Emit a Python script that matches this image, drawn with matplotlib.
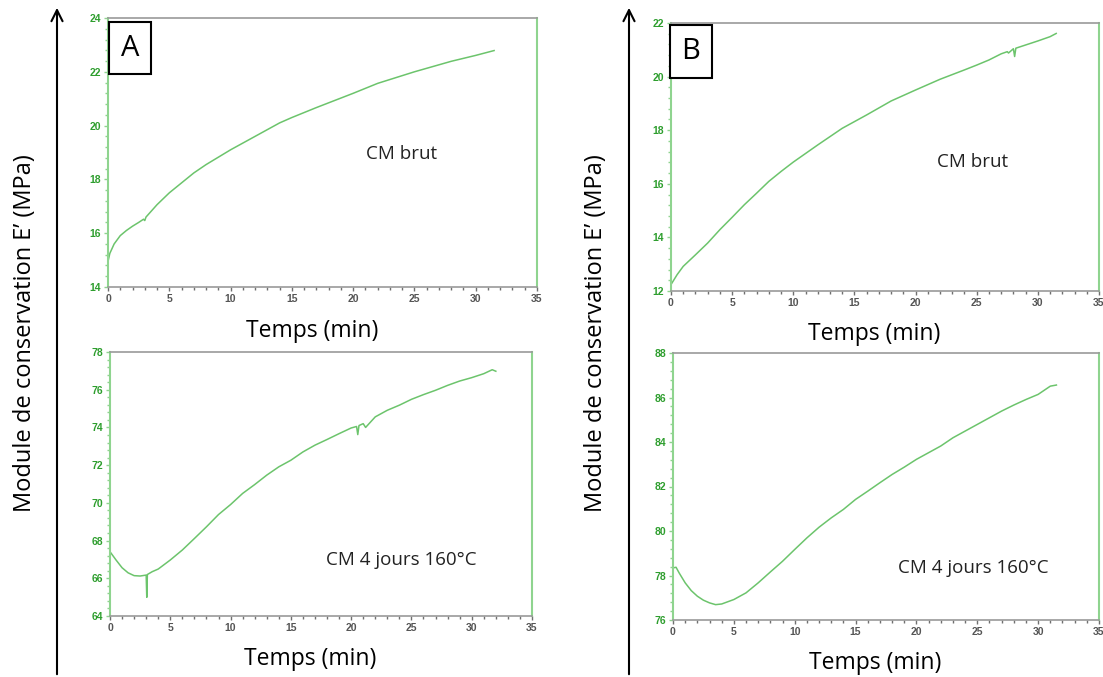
import numpy as np
import matplotlib.pyplot as plt
from matplotlib.ticker import MultipleLocator

# Values (time in min, E' in MPa)
t_a_brut = [0, 0.15, 0.5, 1, 1.5, 2, 2.5, 2.9, 3.0, 3.1, 4, 5, 6, 7, 8, 10, 12, 14, 15, 17, 20, 22, 25, 28, 30, 31.5]
e_a_brut = [14.95, 15.25, 15.6, 15.91, 16.1, 16.26, 16.4, 16.52, 16.47, 16.6, 17.06, 17.5, 17.87, 18.24, 18.55, 19.1, 19.6, 20.1, 20.3, 20.67, 21.2, 21.57, 22.0, 22.39, 22.61, 22.79]

t_a_4j = [0, 0.5, 1, 1.5, 2, 2.5, 3, 3.05, 3.1, 3.5, 4, 5, 6, 7, 8, 9, 10, 11, 12, 13, 14, 15, 16, 17, 18, 19, 20,
          20.45, 20.55, 20.65, 21, 21.2, 22, 23, 24, 25, 26, 27, 28, 29, 30, 31, 31.7, 32]
e_a_4j = [67.41, 66.97, 66.56, 66.29, 66.14, 66.12, 66.17, 64.99, 66.2, 66.35, 66.49, 66.97, 67.5, 68.11, 68.73, 69.38, 69.91, 70.5, 70.97, 71.47, 71.91, 72.26, 72.7, 73.06, 73.36, 73.67, 73.97,
          74.05, 73.62, 74.1, 74.2, 74.0, 74.56, 74.91, 75.18, 75.49, 75.74, 75.97, 76.23, 76.46, 76.64, 76.85, 77.06, 76.98]

t_b_brut = [0, 0.5, 1, 2, 3, 4, 5, 6, 7, 8, 9, 10, 12, 14, 15, 16, 18, 20, 22, 24, 25, 26, 27, 27.5, 27.6, 28, 28.1, 28.2, 29, 30, 31, 31.5]
e_b_brut = [12.24, 12.61, 12.92, 13.35, 13.79, 14.29, 14.75, 15.22, 15.65, 16.09, 16.46, 16.81, 17.45, 18.07, 18.32, 18.57, 19.09, 19.5, 19.9, 20.25, 20.43, 20.62, 20.85, 20.93, 20.88, 21.04, 20.75, 21.06, 21.18, 21.33, 21.49, 21.61]

t_b_4j = [0, 0.25, 0.5, 1, 1.5, 2, 2.5, 3, 3.5, 4, 5, 6, 7, 8, 9, 10, 11, 12, 13, 14, 15, 16, 17, 18, 19, 20,
          21, 22, 23, 24, 25, 26, 27, 28, 29, 30, 31, 31.5]
e_b_4j = [78.34, 78.37, 78.12, 77.67, 77.32, 77.07, 76.89, 76.77, 76.69, 76.72, 76.92, 77.22, 77.67, 78.16, 78.64, 79.17, 79.69, 80.17, 80.59, 80.97, 81.42, 81.79, 82.17, 82.54, 82.87, 83.22,
          83.52, 83.82, 84.19, 84.49, 84.79, 85.09, 85.39, 85.66, 85.91, 86.14, 86.51, 86.56]

panels = [
    # (x, y data, ylim, axes box in pixels: left, top, right, bottom, note position in axes fraction)
    (t_a_brut, e_a_brut, (14, 24), (108, 18, 537, 287), (0.685, 0.494)),
    (t_a_4j, e_a_4j, (64, 78), (110, 352, 532, 616), (0.691, 0.212)),
    (t_b_brut, e_b_brut, (12, 22), (671, 23, 1099, 291), (0.705, 0.482)),
    (t_b_4j, e_b_4j, (76, 88), (673, 353, 1099, 620), (0.704, 0.195)),
]
annot = ['CM brut', 'CM 4 jours 160°C', 'CM brut', 'CM 4 jours 160°C']

W, H = 1103, 677
line_col = '#6cc46c'
spine_green = '#8fd48f'
tick_col = '#2e9e2e'

fig = plt.figure(figsize=(W / 100, H / 100), dpi=100)

def px_axes(box):
    l, t, r, b = box
    return fig.add_axes([l / W, 1 - b / H, (r - l) / W, (b - t) / H])

for (x, y, ylim, box, pos), txt in zip(panels, annot):
    ax = px_axes(box)
    ax.plot(x, y, color=line_col, lw=1.1)
    ax.set_xlim(0, 35)
    ax.set_ylim(*ylim)
    ax.xaxis.set_major_locator(MultipleLocator(5))
    ax.xaxis.set_minor_locator(MultipleLocator(1))
    ax.yaxis.set_major_locator(MultipleLocator(2))
    ax.yaxis.set_minor_locator(MultipleLocator(0.4))
    for s in ['left', 'right']:
        ax.spines[s].set_color(spine_green)
        ax.spines[s].set_linewidth(1.5)
    for s in ['top', 'bottom']:
        ax.spines[s].set_color('#9a9a9a')
        ax.spines[s].set_linewidth(1.2)
    ax.tick_params(axis='y', which='both', colors=spine_green, labelcolor=tick_col,
                   labelsize=7.5, length=3, width=1, pad=2)
    ax.tick_params(axis='y', which='minor', length=2)
    ax.tick_params(axis='x', which='both', colors='#707070', labelcolor='#555555',
                   labelsize=7.5, length=3, width=1, pad=2)
    ax.tick_params(axis='x', which='minor', length=2)
    for lab in ax.get_xticklabels() + ax.get_yticklabels():
        lab.set_fontweight('bold')
        lab.set_family('Liberation Sans')
    ax.text(pos[0], pos[1], txt, transform=ax.transAxes, ha='center', va='center',
            fontsize=13.5, family='Open Sans', color='#222222')
    ax.set_xlabel('Temps (min)', fontsize=16.5, family='Open Sans', va='center')
    ax.xaxis.set_label_coords(0.475, -0.162)

# the box labels A and B
for lab, (l, t, r, b) in [('A', (108, 19, 152, 77)), ('B', (669, 23, 713, 80))]:
    fig.text((l + r) / 2 / W, 1 - (t + b) / 2 / H, lab, ha='center', va='center',
             fontsize=21, family='Open Sans',
             bbox=dict(boxstyle='square,pad=0.4', fc='white', ec='black', lw=1.5))

# long arrows with the shared y label
for xa, xl in [(57, 25), (629, 596)]:
    fig.add_artist(plt.Annotation('', xy=(xa / W, 1 - 5 / H), xytext=(xa / W, 0),
                                  xycoords='figure fraction',
                                  arrowprops=dict(arrowstyle='->', lw=1.5, color='black',
                                                  mutation_scale=20)))
    fig.text(xl / W, 1 - 333 / H, "Module de conservation E’ (MPa)", rotation=90,
             ha='center', va='center', fontsize=17, family='Open Sans')

fig.savefig('out.png', dpi=100)
